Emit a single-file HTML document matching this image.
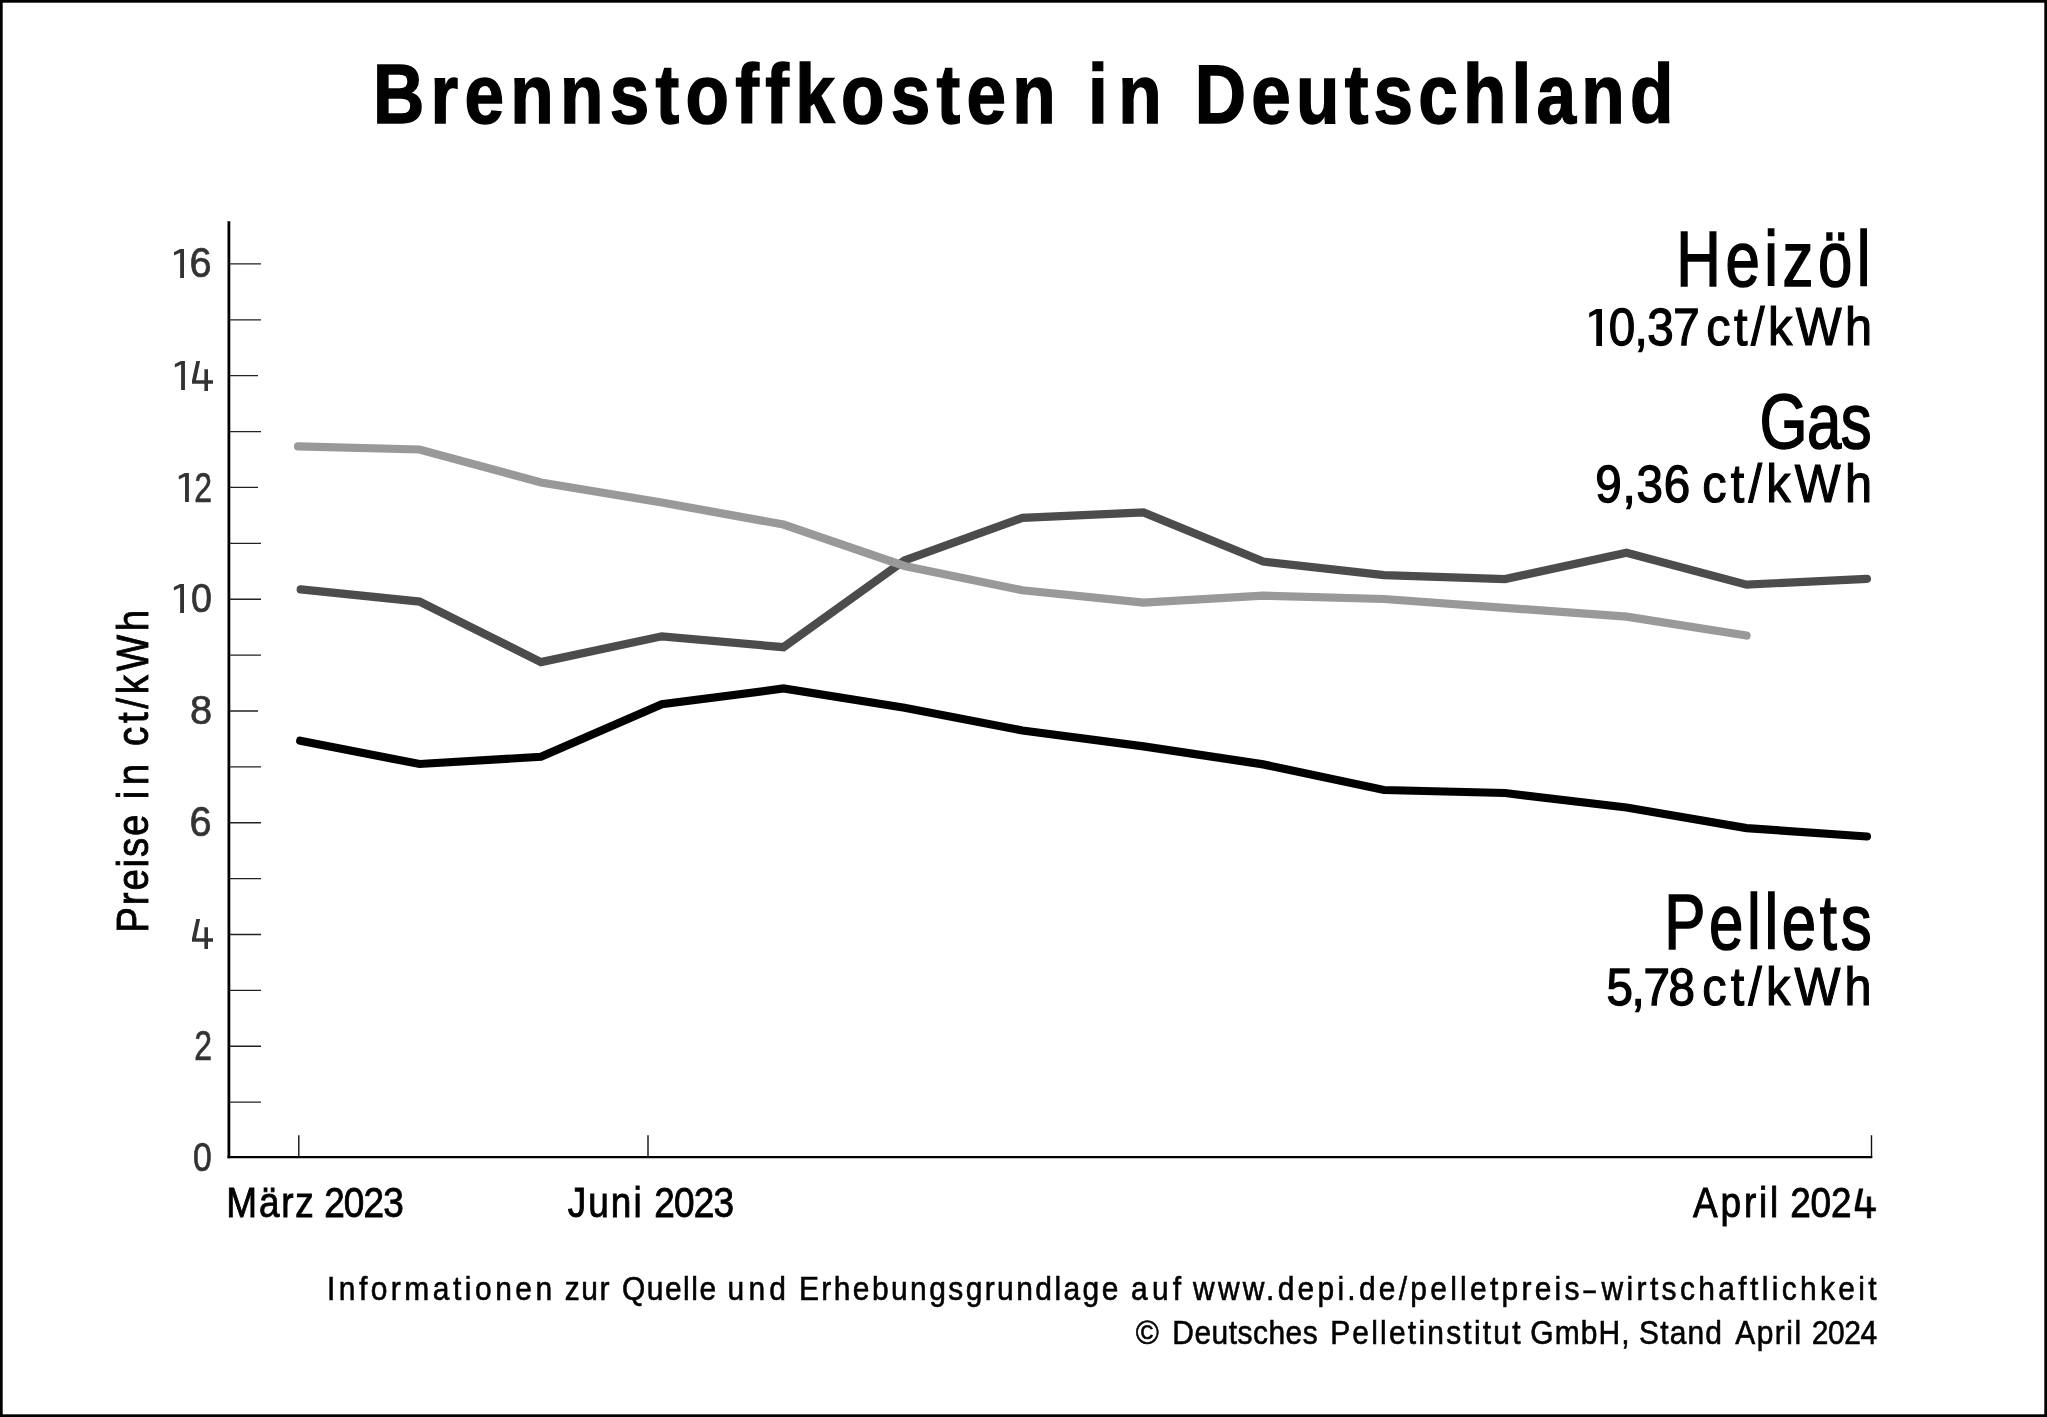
<!DOCTYPE html>
<html lang="de">
<head>
<meta charset="utf-8">
<title>Brennstoffkosten in Deutschland</title>
<style>
html,body{margin:0;padding:0;background:#fff;}
body{width:2047px;height:1417px;overflow:hidden;font-family:"Liberation Sans", sans-serif;}
svg{display:block;position:absolute;left:0;top:0;}
text{font-family:"Liberation Sans", sans-serif;font-variant-ligatures:none;}
</style>
</head>
<body>
<svg width="2047" height="1417" viewBox="0 0 2047 1417">
<rect x="0" y="0" width="2047" height="1417" fill="#fff"/>
<rect x="1.35" y="1.35" width="2044.3" height="1414.3" fill="none" stroke="#000" stroke-width="2.7"/>
<!-- axes -->
<path d="M228.9 221.2V1158.3" stroke="#000" stroke-width="2.8" fill="none"/>
<path d="M227.5 1157.2H1872.3" stroke="#000" stroke-width="2.2" fill="none"/>
<path d="M230 1102.15H261M230 1046.27H261M230 990.39H261M230 934.51H261M230 878.63H261M230 822.75H261M230 766.87H261M230 710.99H258M230 655.11H261M230 599.23H261M230 543.35H261M230 487.47H258M230 431.59H261M230 375.71H258M230 319.83H261M230 263.95H261" stroke="#222" stroke-width="1.3" fill="none"/>
<path d="M298.8 1135.3V1157M648 1135.3V1157M1871.5 1135.3V1157" stroke="#111" stroke-width="1.4" fill="none"/>
<!-- series -->
<g fill="none" stroke-width="8.2" stroke-linecap="round" stroke-linejoin="miter">
<polyline stroke="#000" points="300.2,740.7 419.5,764 541,756.8 661.8,704.2 783.5,688.5 904.5,707.8 1022.5,730.5 1143.5,746.4 1263.2,764.4 1384,790 1505,793 1626.5,807.5 1746.5,828.1 1866.9,836.5"/>
<polyline stroke="#4c4c4c" points="300.7,589.4 419.5,601.6 541,662.1 661.8,636.3 783.5,647.2 904.5,560.5 1022.5,517.8 1143.5,512.4 1263.2,561.6 1384,575.1 1505,579.1 1626.5,552.7 1746.5,584.6 1866.9,578.8"/>
<polyline stroke="#999" points="298.1,446.4 419.5,449.5 541,482.5 661.8,502.5 783.5,524.5 904.5,566 1022.5,590.3 1143.5,602.6 1263.2,595.7 1384,599 1505,607.8 1626.5,616.6 1746.5,635.5"/>
</g>
<!-- custom 1 glyphs -->
<path d="M196.3 919.05L200.1 919.05L196 938.3L213 938.3L213 941.8L192 941.8L192 938.6ZM204.4 927.3L208 927.3L208 948.9L204.4 948.9Z" fill="#333"/>
<path d="M196.3 361.05L200.1 361.05L196 380.3L213 380.3L213 383.8L192 383.8L192 380.6ZM204.4 369.3L208 369.3L208 390.9L204.4 390.9Z" fill="#333"/>
<path d="M184 583.9L184 613L180.15 613L180.15 587.58L173.91 590.51L173.91 587.07L180.05 583.9Z" fill="#333"/>
<path d="M188.9 472.9L188.9 502L185.05 502L185.05 476.58L178.81 479.51L178.81 476.07L184.95 472.9Z" fill="#333"/>
<path d="M184.95 360.9L184.95 390L181.1 390L181.1 364.58L174.86 367.51L174.86 364.07L181 360.9Z" fill="#333"/>
<path d="M184 249.05L184 277.9L180.15 277.9L180.15 252.7L174 255.6L174 252.19L180.05 249.05Z" fill="#333"/>
<path d="M1859.24 1188.7L1862.98 1188.7L1858.94 1207.66L1875.68 1207.66L1875.68 1211.11L1855 1211.11L1855 1207.96ZM1867.21 1196.83L1870.76 1196.83L1870.76 1218.1L1867.21 1218.1Z" fill="#000" stroke="#000" stroke-width="0.5"/>
<path d="M1602 309.1L1602 346L1596.3 346L1596.3 313.77L1589.21 317.48L1589.21 313.12L1596.2 309.1Z" fill="#000"/>
<!-- text -->
<g fill="#000" opacity="0.999">
<text transform="translate(372.95 123.15) scale(0.8600 1)" font-size="82.7" letter-spacing="7.3" font-weight="bold" stroke="#000" stroke-width="1.5">Brennstoffkosten</text>
<text transform="translate(1088.04 123.15) scale(0.8600 1)" font-size="82.7" letter-spacing="12.29" font-weight="bold" stroke="#000" stroke-width="1.5">in</text>
<text transform="translate(1194.77 123.15) scale(0.8600 1)" font-size="82.7" letter-spacing="6.03" font-weight="bold" stroke="#000" stroke-width="1.5">Deutschland</text>
<text transform="translate(192.96 1171.25) scale(0.8157 1)" font-size="41.3" fill="#333" stroke="#333" stroke-width="0.7">0</text>
<text transform="translate(194.33 1059.55) scale(0.7677 1)" font-size="41.7" fill="#333" stroke="#333" stroke-width="0.7">2</text>
<text transform="translate(189.48 836.25) scale(0.9287 1)" font-size="42.8" fill="#333" stroke="#333" stroke-width="0.7">6</text>
<text transform="translate(189.88 724.25) scale(0.9635 1)" font-size="41.3" fill="#333" stroke="#333" stroke-width="0.7">8</text>
<text transform="translate(190.98 612.35) scale(0.9129 1)" font-size="41.3" fill="#333" stroke="#333" stroke-width="0.7">0</text>
<text transform="translate(194.33 501.65) scale(0.7677 1)" font-size="41.7" fill="#333" stroke="#333" stroke-width="0.7">2</text>
<text transform="translate(189.48 277.35) scale(0.9287 1)" font-size="42.8" fill="#333" stroke="#333" stroke-width="0.7">6</text>
<text transform="translate(226.35 1217.25) scale(0.8600 1)" font-size="43" letter-spacing="2.03" stroke="#000" stroke-width="0.9">März</text>
<text transform="translate(324.22 1217.25) scale(0.8600 1)" font-size="43" letter-spacing="-1.06" stroke="#000" stroke-width="0.9">2023</text>
<text transform="translate(567.87 1217.25) scale(0.8600 1)" font-size="43" letter-spacing="2.29" stroke="#000" stroke-width="0.9">Juni</text>
<text transform="translate(654.22 1217.25) scale(0.8600 1)" font-size="43" letter-spacing="-0.92" stroke="#000" stroke-width="0.9">2023</text>
<text transform="translate(1693.09 1217.25) scale(0.8600 1)" font-size="43" letter-spacing="3.24" stroke="#000" stroke-width="0.9">April</text>
<text transform="translate(1790.22 1217.25) scale(0.8600 1)" font-size="43" letter-spacing="-0.27" stroke="#000" stroke-width="0.9">202</text>
<text transform="translate(1676.33 286.3) scale(0.8000 1)" font-size="77.2" letter-spacing="5.64" stroke="#000" stroke-width="1.6">Heizöl</text>
<text transform="translate(1759.42 447.6) scale(0.8000 1)" font-size="77.2" letter-spacing="-0.62" stroke="#000" stroke-width="1.6">Gas</text>
<text transform="translate(1664.15 949.1) scale(0.8000 1)" font-size="77.2" letter-spacing="4.6" stroke="#000" stroke-width="1.6">Pellets</text>
<text transform="translate(1608.65 345.25) scale(0.9200 1)" font-size="51.7" letter-spacing="-0.56" stroke="#000" stroke-width="1.3">0,37</text>
<text transform="translate(1706.34 345.3) scale(0.9000 1)" font-size="54" letter-spacing="3.81" stroke="#000" stroke-width="1.2">ct/kWh</text>
<text transform="translate(1595.21 502.15) scale(0.9200 1)" font-size="51.7" letter-spacing="0.91" stroke="#000" stroke-width="1.3">9,36</text>
<text transform="translate(1702.3 502.2) scale(0.9000 1)" font-size="54" letter-spacing="4.71" stroke="#000" stroke-width="1.2">ct/kWh</text>
<text transform="translate(1606.5 1005.15) scale(0.9200 1)" font-size="51.7" letter-spacing="-1.45" stroke="#000" stroke-width="1.3">5,78</text>
<text transform="translate(1702.16 1005.2) scale(0.9000 1)" font-size="54" letter-spacing="4.66" stroke="#000" stroke-width="1.2">ct/kWh</text>
<text transform="translate(147.55 932.72) rotate(-90) scale(0.8600 1)" font-size="44.8" letter-spacing="2.09" stroke="#000" stroke-width="0.9">Preise</text>
<text transform="translate(147.55 799.19) rotate(-90) scale(0.8600 1)" font-size="44.8" letter-spacing="6.36" stroke="#000" stroke-width="0.9">in</text>
<text transform="translate(147.55 746.09) rotate(-90) scale(0.8600 1)" font-size="44.8" letter-spacing="4.33" stroke="#000" stroke-width="0.9">ct/kWh</text>
<text transform="translate(326.88 1299.7) scale(0.9000 1)" font-size="33.3" letter-spacing="3.9" stroke="#000" stroke-width="0.6">Informationen</text>
<text transform="translate(564.77 1299.7) scale(0.9000 1)" font-size="33.3" letter-spacing="1.79" stroke="#000" stroke-width="0.6">zur</text>
<text transform="translate(622.06 1299.7) scale(0.9000 1)" font-size="33.3" letter-spacing="1.65" stroke="#000" stroke-width="0.6">Quelle</text>
<text transform="translate(727.41 1299.7) scale(0.9000 1)" font-size="33.3" letter-spacing="4.8" stroke="#000" stroke-width="0.6">und</text>
<text transform="translate(798.9 1299.7) scale(0.9000 1)" font-size="33.3" letter-spacing="2.7" stroke="#000" stroke-width="0.6">Erhebungsgrundlage</text>
<text transform="translate(1131.06 1299.7) scale(0.9000 1)" font-size="33.3" letter-spacing="4.64" stroke="#000" stroke-width="0.6">auf</text>
<text transform="translate(1193.01 1299.7) scale(0.9000 1)" font-size="33.3" letter-spacing="3.63" stroke="#000" stroke-width="0.6">www.depi.de/pelletpreis</text>
<text transform="translate(1583.51 1299.7) scale(0.6599 1)" font-size="33.3" stroke="#000" stroke-width="0.6">–</text>
<text transform="translate(1601.6 1299.7) scale(0.9000 1)" font-size="33.3" letter-spacing="3.73" stroke="#000" stroke-width="0.6">wirtschaftlichkeit</text>
<text transform="translate(1135.67 1343.5) scale(0.9417 1)" font-size="33.3" stroke="#000" stroke-width="0.6">©</text>
<text transform="translate(1172.31 1343.5) scale(0.9000 1)" font-size="33.3" letter-spacing="0.54" stroke="#000" stroke-width="0.6">Deutsches</text>
<text transform="translate(1330.13 1343.5) scale(0.9000 1)" font-size="33.3" letter-spacing="2.47" stroke="#000" stroke-width="0.6">Pelletinstitut</text>
<text transform="translate(1530.32 1343.5) scale(0.9000 1)" font-size="33.3" letter-spacing="1.21" stroke="#000" stroke-width="0.6">GmbH,</text>
<text transform="translate(1639.02 1343.5) scale(0.9000 1)" font-size="33.3" letter-spacing="1.31" stroke="#000" stroke-width="0.6">Stand</text>
<text transform="translate(1735.21 1343.5) scale(0.9000 1)" font-size="33.3" letter-spacing="1.66" stroke="#000" stroke-width="0.6">April</text>
<text transform="translate(1811.78 1343.5) scale(0.9000 1)" font-size="33.3" letter-spacing="-0.43" stroke="#000" stroke-width="0.6">2024</text>
</g>
</svg>
</body>
</html>
